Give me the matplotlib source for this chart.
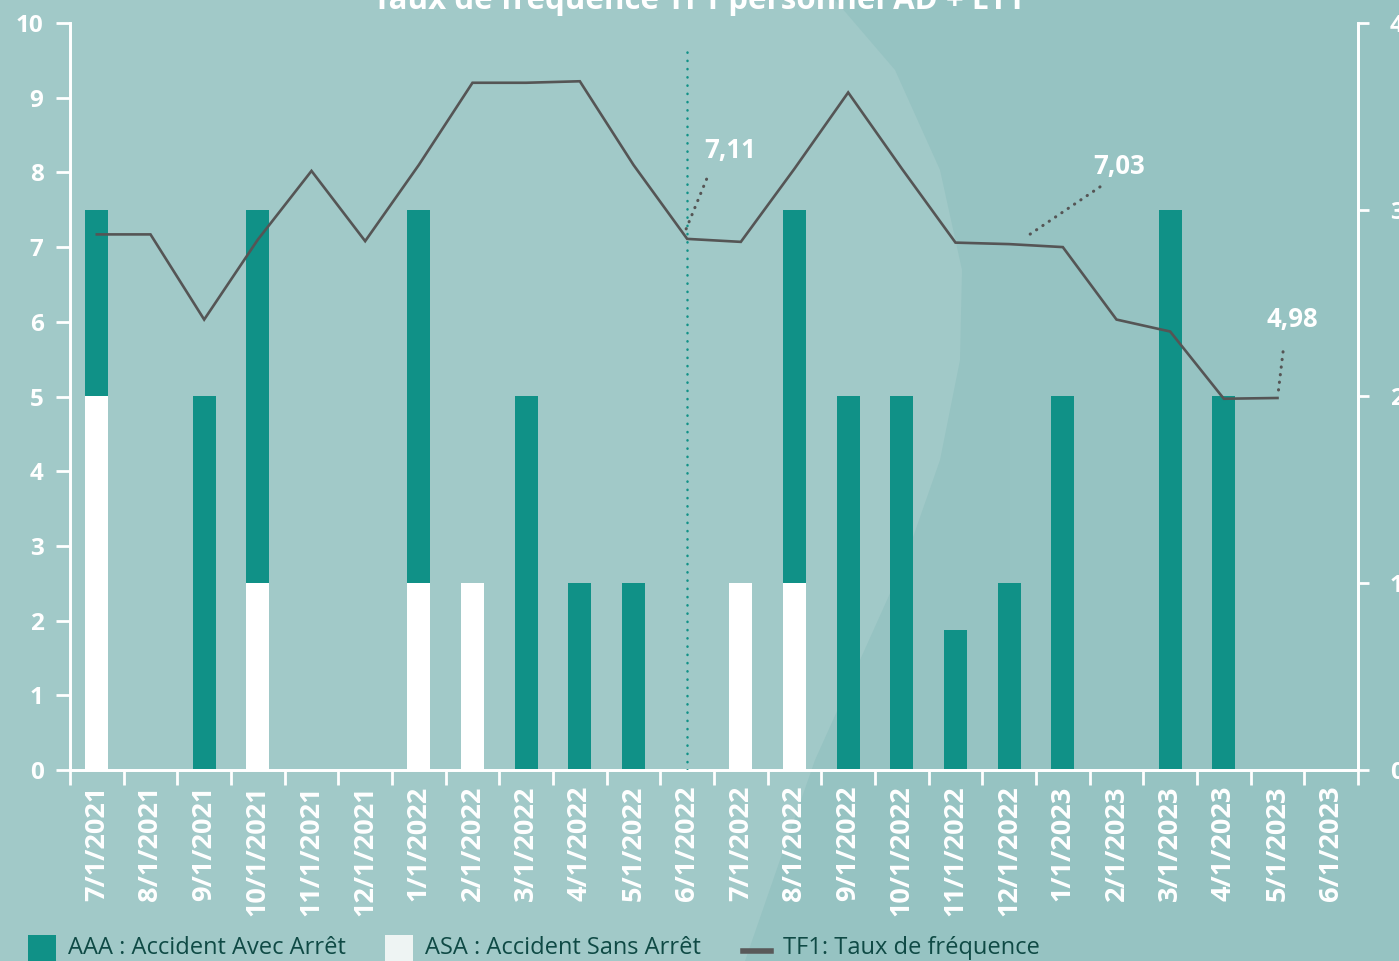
import numpy as np
import matplotlib
matplotlib.use("Agg")
import matplotlib.pyplot as plt
from matplotlib.patches import Rectangle, Polygon
from matplotlib.lines import Line2D

# ---------------- data ----------------
months = ["7/1/2021", "8/1/2021", "9/1/2021", "10/1/2021", "11/1/2021", "12/1/2021",
          "1/1/2022", "2/1/2022", "3/1/2022", "4/1/2022", "5/1/2022", "6/1/2022",
          "7/1/2022", "8/1/2022", "9/1/2022", "10/1/2022", "11/1/2022", "12/1/2022",
          "1/1/2023", "2/1/2023", "3/1/2023", "4/1/2023", "5/1/2023", "6/1/2023"]
asa = [2, 0, 0, 1, 0, 0, 1, 1, 0, 0, 0, 0, 1, 1, 0, 0, 0, 0, 0, 0, 0, 0, 0, 0]
aaa = [1, 0, 2, 2, 0, 0, 2, 0, 2, 1, 1, 0, 0, 2, 2, 2, 0.75, 1, 2, 0, 3, 2, 0, 0]
tf1 = [7.17, 7.17, 6.03, 7.10, 8.02, 7.08, 8.10, 9.20, 9.20, 9.22, 8.10, 7.11,
       7.07, 8.05, 9.07, 8.05, 7.06, 7.04, 7.00, 6.03, 5.87, 4.97, 4.98, np.nan]
left_ticks = list(range(0, 11))
right_ticks = [0, 1, 2, 3, 4]
ann_labels = ["7,11", "7,03", "4,98"]
ann_index = [11, 17, 22]
marker_index = 11  # vertical dotted line
title = "Taux de fréquence TF1 personnel AD + ETT"
legend_labels = ["AAA : Accident Avec Arrêt", "ASA : Accident Sans Arrêt", "TF1: Taux de fréquence"]

# ---------------- style ----------------
W, H = 1399, 961
BG_R = "#96c3c2"
BG_L = "#a1c9c8"
TEAL = "#109187"
LINE = "#555555"
TXT = "#0f4a45"
FONT = "Open Sans"

plt.rcParams["font.family"] = [FONT, "DejaVu Sans"]

fig = plt.figure(figsize=(W / 100, H / 100), dpi=100, facecolor=BG_R)

def fx(px):
    return px / W

def fy(py):
    return 1 - py / H

# lighter background shape
shape = [(0, 0), (835, 0), (895, 70), (940, 170), (962, 270), (960, 360), (940, 460),
         (905, 560), (860, 660), (815, 760), (780, 860), (745, 961), (0, 961)]
fig.patches.append(Polygon([(fx(a), fy(b)) for a, b in shape], closed=True,
                           transform=fig.transFigure, facecolor=BG_L, edgecolor="none",
                           zorder=-10))

ax = fig.add_axes([fx(70), fy(770), fx(1358) - fx(70), fy(23) - fy(770)])
ax.set_facecolor("none")
ax2 = ax.twinx()
ax2.set_facecolor("none")

x = np.arange(len(months))
bw = 0.43
ax2.bar(x, asa, width=bw, color="white", zorder=2)
ax2.bar(x, aaa, width=bw, bottom=asa, color=TEAL, zorder=2)

ax.set_zorder(ax2.get_zorder() + 1)
ax.plot(x, tf1, color=LINE, lw=1.9, zorder=3, solid_joinstyle="miter")

ax.set_xlim(-0.5, len(months) - 0.5)
ax.set_ylim(0, 10)
ax2.set_ylim(0, 4)

# vertical dotted line
ax.plot([marker_index, marker_index], [0, 9.67], color=TEAL, lw=1.8,
        linestyle=(0, (0.1, 3.2)), dash_capstyle="round", zorder=3)

# spines & ticks
for a in (ax, ax2):
    for s in a.spines.values():
        s.set_color("white")
        s.set_linewidth(2)
    a.spines["top"].set_visible(False)

ax.set_yticks(left_ticks)
ax.set_yticklabels([str(t) for t in left_ticks])
ax.tick_params(axis="y", colors="white", length=10, width=2, pad=9, labelsize=17.5)
ax2.set_yticks(right_ticks)
ax2.set_yticklabels([str(t) for t in right_ticks])
ax2.tick_params(axis="y", colors="white", length=8, width=2, pad=15, labelsize=17.5)
for lab in ax.get_yticklabels() + ax2.get_yticklabels():
    lab.set_fontweight("bold")

ax.set_xticks(x)
ax.set_xticklabels(months, rotation=90, fontsize=19.5, fontweight="bold", color="white")
ax.tick_params(axis="x", which="major", length=0, pad=11)
ax.set_xticks(np.arange(-0.5, len(months) + 0.5, 1), minor=True)
ax.tick_params(axis="x", which="minor", length=11, width=2, color="white")

# title (cut by the top edge)
fig.text(0.5, fy(9), title, ha="center", va="baseline", color="white",
         fontsize=22.5, fontweight="bold")

fig.canvas.draw()

# annotations with dotted leaders (pixel offsets from the data point)
offsets = {11: ((-1, 10), (22, 66), (43, 88)),
           17: ((21, 10), (92, 58), (110, 78)),
           22: ((1, 8), (6, 50), (15, 78))}
for lab, i in zip(ann_labels, ann_index):
    px, py = ax.transData.transform((i, tf1[i]))
    (s0, s1), (e0, e1), (t0, t1) = offsets[i]
    fig.add_artist(Line2D([px + s0, px + e0], [py + s1, py + e1], transform=None,
                          color=LINE, lw=2.2, linestyle=(0, (0.1, 2.4)),
                          dash_capstyle="round"))
    fig.text((px + t0) / W, (py + t1) / H, lab, ha="center", va="center",
             color="white", fontsize=18.5, fontweight="bold")

# legend (manual)
fig.patches.append(Rectangle((fx(28), fy(961)), fx(28), 26 / H, transform=fig.transFigure,
                             facecolor=TEAL, edgecolor="none"))
fig.text(fx(68), fy(948), legend_labels[0], ha="left", va="center", color=TXT, fontsize=17)
fig.patches.append(Rectangle((fx(385), fy(961)), fx(28), 26 / H, transform=fig.transFigure,
                             facecolor="#eef4f3", edgecolor="none"))
fig.text(fx(425), fy(948), legend_labels[1], ha="left", va="center", color=TXT, fontsize=17)
fig.add_artist(Line2D([fx(743), fx(771)], [fy(951), fy(951)], transform=fig.transFigure,
                      color="#595959", lw=4))
fig.text(fx(783), fy(948), legend_labels[2], ha="left", va="center", color=TXT, fontsize=17)

fig.savefig("out.png", dpi=100, facecolor=fig.get_facecolor())
